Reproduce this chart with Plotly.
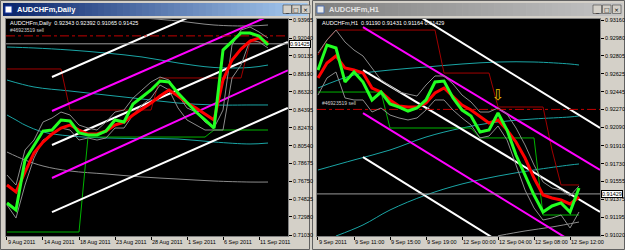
import plotly.graph_objects as go

W, H = 625, 250

# ---------------- LEFT CHART: AUDCHFm, Daily ----------------
daily_tick_bars = [0, 4, 8, 12, 16, 20, 24, 28]
daily_tick_labels = ["9 Aug 2011", "14 Aug 2011", "18 Aug 2011", "23 Aug 2011",
                     "28 Aug 2011", "1 Sep 2011", "6 Sep 2011", "11 Sep 2011"]
daily_price_ticks = [0.93965, 0.92040, 0.90135, 0.88190, 0.86320, 0.84395, 0.82470,
                     0.80540, 0.78675, 0.76750, 0.74825, 0.72980, 0.71030]
daily_fast = [0.7444, 0.7370, 0.7903, 0.8052, 0.8212, 0.8223, 0.8330, 0.8319, 0.8191, 0.8170,
              0.8170, 0.8212, 0.8330, 0.8308, 0.8500, 0.8575, 0.8650, 0.8746, 0.8735, 0.8618,
              0.8511, 0.8415, 0.8330, 0.8244, 0.9076, 0.9162, 0.9258, 0.9258, 0.9226, 0.9130]
daily_slow = [0.7636, 0.7562, 0.7775, 0.7978, 0.8095, 0.8180, 0.8244, 0.8276, 0.8223, 0.8180,
              0.8180, 0.8212, 0.8276, 0.8308, 0.8383, 0.8447, 0.8511, 0.8586, 0.8650, 0.8586,
              0.8511, 0.8458, 0.8394, 0.8330, 0.8756, 0.8970, 0.9087, 0.9172, 0.9204, 0.9151]
daily_env_high = [0.7743, 0.7636, 0.8010, 0.8116, 0.8308, 0.8351, 0.8415, 0.8383, 0.8276, 0.8244,
                  0.8223, 0.8308, 0.8415, 0.8436, 0.8564, 0.8650, 0.8735, 0.8788, 0.8756, 0.8596,
                  0.8458, 0.8415, 0.8308, 0.8244, 0.8436, 0.9130, 0.9290, 0.9322, 0.9268, 0.9204]
daily_env_low = [0.7423, 0.7284, 0.7636, 0.7924, 0.8116, 0.8170, 0.8244, 0.8223, 0.8116, 0.8138,
                 0.8116, 0.8138, 0.8244, 0.8244, 0.8383, 0.8490, 0.8564, 0.8703, 0.8650, 0.8458,
                 0.8330, 0.8276, 0.8223, 0.8223, 0.8223, 0.8778, 0.8916, 0.9183, 0.9162, 0.9098]
daily_stop_red = [0.8874] * 7 + [0.8436] * 10 + [0.8778] * 10 + [0.9162] * 3
daily_stop_green = [0.7135] * 9 + [0.8148] * 14 + [0.8223] * 7
daily_band_bars_a = [0, 3, 7, 11, 15, 19, 23, 27, 29]
daily_band_a = [0.9108, 0.9098, 0.9076, 0.9044, 0.9002, 0.8938, 0.8890, 0.8890, 0.8916]
daily_band_b = [0.8756, 0.8682, 0.8639, 0.8596, 0.8554, 0.8511, 0.8490, 0.8490, 0.8490]
daily_band_bars_c = [0, 1, 2, 4, 7, 11, 15, 19, 23, 27, 29]
daily_band_c = [0.8383, 0.8330, 0.8276, 0.8202, 0.8159, 0.8138, 0.8132, 0.8127, 0.8095, 0.8074, 0.8084]
daily_band_bars_d = [0, 2, 4, 7, 11, 15, 19, 23, 27, 29]
daily_band_d = [0.7988, 0.7903, 0.7839, 0.7786, 0.7754, 0.7722, 0.7700, 0.7679, 0.7668, 0.7668]
daily_band_bars_e = [15, 19, 23, 27, 29]
daily_band_e = [0.9418, 0.9386, 0.9343, 0.9333, 0.9343]
# channel lines: (bar0, price0, bar1, price1, colour)
daily_channels = [
    (5, 0.8788, 22, 0.9500, "#FFFFFF"),
    (5, 0.8426, 31.2, 0.9526, "#FF00FF"),
    (5, 0.8063, 31.2, 0.9162, "#FFFFFF"),
    (5, 0.7711, 31.2, 0.8860, "#FF00FF"),
    (5, 0.7348, 31.2, 0.8458, "#FFFFFF"),
]
daily_close = 0.91425
daily_info = "AUDCHFm,Daily  0.92343 0.92392 0.91065 0.91425"

# ---------------- RIGHT CHART: AUDCHFm, H1 ----------------
h1_tick_bars = [0, 4, 8, 12, 16, 20, 24, 28]
h1_tick_labels = ["9 Sep 2011", "9 Sep 11:00", "9 Sep 15:00", "9 Sep 19:00",
                  "12 Sep 00:00", "12 Sep 04:00", "12 Sep 08:00", "12 Sep 12:00"]
h1_price_ticks = [0.93160, 0.92980, 0.92805, 0.92625, 0.92445, 0.92270, 0.92090,
                  0.91910, 0.91730, 0.91555, 0.91375, 0.91195, 0.91020]
h1_fast = [0.92662, 0.92911, 0.92881, 0.92543, 0.92642, 0.92543, 0.92364, 0.92443, 0.92324, 0.92294,
           0.92254, 0.92284, 0.92364, 0.92543, 0.92553, 0.92384, 0.92264, 0.92205, 0.92045, 0.92065,
           0.92234, 0.92065, 0.91816, 0.91617, 0.91418, 0.91249, 0.91309, 0.91339, 0.91249, 0.91488]
h1_slow = [0.92583, 0.92732, 0.92802, 0.92682, 0.92662, 0.92632, 0.92483, 0.92443, 0.92364, 0.92304,
           0.92294, 0.92294, 0.92334, 0.92433, 0.92483, 0.92394, 0.92314, 0.92264, 0.92195, 0.92135,
           0.92165, 0.92065, 0.91946, 0.91786, 0.91587, 0.91418, 0.91388, 0.91368, 0.91329, 0.91398]
h1_env_high = [0.92831, 0.92961, 0.93060, 0.92941, 0.92861, 0.92802, 0.92682, 0.92563, 0.92503, 0.92443,
               0.92423, 0.92403, 0.92513, 0.92603, 0.92603, 0.92523, 0.92413, 0.92344, 0.92244, 0.92244,
               0.92284, 0.92224, 0.92085, 0.91916, 0.91717, 0.91548, 0.91488, 0.91468, 0.91408, 0.91508]
h1_env_low = [0.92413, 0.92583, 0.92642, 0.92384, 0.92364, 0.92364, 0.92244, 0.92284, 0.92214, 0.92185,
              0.92165, 0.92185, 0.92264, 0.92364, 0.92364, 0.92264, 0.92185, 0.92115, 0.91986, 0.92005,
              0.92105, 0.91966, 0.91717, 0.91468, 0.91289, 0.91169, 0.91189, 0.91219, 0.91090, 0.91249]
h1_stop_red = [0.92812, 0.92961] + [0.93060] * 12 + [0.92632] * 6 + [0.92294] * 6 + [0.91866] + [0.91518] * 3
h1_stop_green = [0.92443] * 8 + [0.92085] * 10 + [0.91986] * 7 + [0.91219] * 5
h1_band_bars_a = [0, 4, 8, 12, 16, 20, 24, 28, 29]
h1_band_a = [0.92483, 0.92613, 0.92662, 0.92692, 0.92722, 0.92742, 0.92742, 0.92722, 0.92712]
h1_band_b = [0.91667, 0.91767, 0.91866, 0.91995, 0.92085, 0.92145, 0.92175, 0.92195, 0.92205]
h1_band_bars_c = [2, 5, 8, 12, 16, 20, 24, 28, 29]
h1_band_c = [0.91010, 0.91120, 0.91269, 0.91418, 0.91528, 0.91607, 0.91667, 0.91717, 0.91727]
h1_band_bars_d = [20, 23, 26, 29]
h1_band_d = [0.91012, 0.91060, 0.91100, 0.91149]
h1_channels = [
    (11.56, 0.93180, 31.33, 0.92085, "#FFFFFF"),
    (5, 0.93090, 31.33, 0.91667, "#FF00FF"),
    (5, 0.92662, 31.33, 0.91249, "#FFFFFF"),
    (5, 0.92234, 31.33, 0.90783, "#FF00FF"),
    (5, 0.91796, 21, 0.90904, "#FFFFFF"),
]
h1_signal_bars = [20]
h1_signal_prices = [0.92400]
h1_close = 0.91429
h1_info = "AUDCHFm,H1  0.91190 0.91431 0.91164 0.91429"

order_price = 0.9227
order_label = "#46923519 sell"

FONT = "Liberation Sans"

# ---------------- helpers ----------------
def fx(p):
    return p / W


def fy(p):
    return 1 - p / H


fig = go.Figure()


def line(xs, ys, color, width, xa, ya, dash=None, shape="linear"):
    fig.add_trace(go.Scatter(x=xs, y=ys, mode="lines", xaxis=xa, yaxis=ya,
                             line=dict(color=color, width=width, dash=dash, shape=shape),
                             hoverinfo="skip", showlegend=False))


def draw_chart(xa, ya, xr, bands, stop_red, stop_green, channels, env_hi, env_lo,
               fast, slow, close):
    for bx, by, col in bands:
        line(bx, by, col, 1, xa, ya, shape="spline")
    n = len(fast)
    bars = list(range(n))
    line(bars, stop_green, "#00B400", 1, xa, ya)
    line(bars, stop_red, "#A00000", 1, xa, ya)
    for b0, p0, b1, p1, col in channels:
        line([b0, b1], [p0, p1], col, 2, xa, ya)
    line([xr[0], xr[1]], [order_price, order_price], "#C00000", 1, xa, ya, dash="dashdot")
    line([xr[0], xr[1]], [close, close], "#9A9A9A", 1, xa, ya)
    line(bars, env_hi, "#8C8C8C", 1, xa, ya)
    line(bars, env_lo, "#8C8C8C", 1, xa, ya)
    line(bars, slow, "#FF0000", 3, xa, ya)
    line(bars, fast, "#22FF22", 3, xa, ya)


LXR = [-0.11, 31.22]
RXR = [-0.11, 31.33]
TEAL = "#1AA5A5"

draw_chart("x", "y", LXR,
           [(daily_band_bars_a, daily_band_a, TEAL), (daily_band_bars_a, daily_band_b, TEAL),
            (daily_band_bars_c, daily_band_c, TEAL), (daily_band_bars_d, daily_band_d, "#8C8C8C"),
            (daily_band_bars_e, daily_band_e, "#8C8C8C")],
           daily_stop_red, daily_stop_green, daily_channels, daily_env_high, daily_env_low,
           daily_fast, daily_slow, daily_close)

draw_chart("x2", "y2", RXR,
           [(h1_band_bars_a, h1_band_a, TEAL), (h1_band_bars_a, h1_band_b, TEAL),
            (h1_band_bars_c, h1_band_c, TEAL), (h1_band_bars_d, h1_band_d, "#8C8C8C")],
           h1_stop_red, h1_stop_green, h1_channels, h1_env_high, h1_env_low,
           h1_fast, h1_slow, h1_close)

fig.add_trace(go.Scatter(x=h1_signal_bars, y=h1_signal_prices, mode="text", text=["⇩"],
                         textfont=dict(family="DejaVu Sans", size=15, color="#E8C000"),
                         xaxis="x2", yaxis="y2", hoverinfo="skip", showlegend=False))

# ---------------- axes ----------------
tickfont = dict(family=FONT, size=5.5, color="#000000")
common_x = dict(showgrid=False, zeroline=False, showline=True, linecolor="#808080", linewidth=1,
                mirror=True, ticks="outside", ticklen=3, tickcolor="#000000", tickwidth=1,
                tickfont=tickfont, ticklabelposition="outside right", tickangle=0,
                automargin=False, fixedrange=True)
common_y = dict(showgrid=False, zeroline=False, showline=True, linecolor="#808080", linewidth=1,
                mirror=True, ticks="outside", ticklen=3, tickcolor="#000000", tickwidth=1,
                tickfont=tickfont, side="right", automargin=False, fixedrange=True)
ydom = [fy(236), fy(19)]

fig.update_layout(
    width=W, height=H, margin=dict(l=0, r=0, t=0, b=0, autoexpand=False),
    paper_bgcolor="#D4D0C8", plot_bgcolor="#000000", showlegend=False,
    xaxis=dict(domain=[fx(6), fx(288)], range=LXR, anchor="y",
               tickvals=daily_tick_bars, ticktext=daily_tick_labels, **common_x),
    yaxis=dict(domain=ydom, range=[0.70924, 0.94071], anchor="x",
               tickvals=daily_price_ticks, ticktext=[f"{v:.5f}" for v in daily_price_ticks], **common_y),
    xaxis2=dict(domain=[fx(317), fx(600)], range=RXR, anchor="y2",
                tickvals=h1_tick_bars, ticktext=h1_tick_labels, **common_x),
    yaxis2=dict(domain=ydom, range=[0.91010, 0.93170], anchor="x2",
                tickvals=h1_price_ticks, ticktext=[f"{v:.5f}" for v in h1_price_ticks], **common_y),
)

# ---------------- window chrome ----------------
shapes = []
anns = []


def rect(x0, y0, x1, y1, fill=None, lc=None, lw=0):
    shapes.append(dict(type="rect", xref="paper", yref="paper", x0=fx(x0), x1=fx(x1),
                       y0=fy(y1), y1=fy(y0), fillcolor=fill,
                       line=dict(color=lc if lc else "rgba(0,0,0,0)", width=lw), layer="below"))


def gradient(x0, x1, y0, y1, c0, c1, n=48):
    step = (x1 - x0) / n
    for i in range(n):
        t = i / (n - 1)
        c = tuple(int(round(c0[k] + (c1[k] - c0[k]) * t)) for k in range(3))
        rect(x0 + i * step, y0, x0 + (i + 1) * step + 0.6, y1, fill="rgb(%d,%d,%d)" % c)


# window frames
rect(0.5, 0.5, 309.5, 249.5, lc="#606060", lw=1)
rect(312.5, 0.5, 624.5, 249.5, lc="#606060", lw=1)
# title bars
gradient(3, 307, 3, 16, (10, 36, 106), (166, 202, 240))
gradient(315, 622, 3, 16, (128, 128, 128), (196, 196, 196))
# icons
rect(5, 6, 12, 13, fill="#FFFFFF", lc="#1030A0", lw=1)
rect(317, 6, 324, 13, fill="#E8E8E8", lc="#5070B0", lw=1)


def buttons(xs):
    glyphs = ["_", "□", "×"]
    for x0, g in zip(xs, glyphs):
        rect(x0, 5, x0 + 8.5, 13.5, fill="#D4D0C8", lc="#404040", lw=0.6)
        anns.append(dict(x=fx(x0 + 4.25), y=fy(9.5), xref="paper", yref="paper", text=g,
                         showarrow=False, font=dict(family="DejaVu Sans", size=6, color="#000000"),
                         xanchor="center", yanchor="middle"))


buttons([283, 292, 301.5])
buttons([593, 602.5, 612.5])

anns.append(dict(x=fx(15), y=fy(9.5), xref="paper", yref="paper", text="<b>AUDCHFm,Daily</b>",
                 showarrow=False, font=dict(family=FONT, size=7.5, color="#FFFFFF"),
                 xanchor="left", yanchor="middle"))
anns.append(dict(x=fx(327), y=fy(9.5), xref="paper", yref="paper", text="<b>AUDCHFm,H1</b>",
                 showarrow=False, font=dict(family=FONT, size=7.5, color="#E4E4E4"),
                 xanchor="left", yanchor="middle"))

# info lines inside charts
infofont = dict(family=FONT, size=5.5, color="#FFFFFF")
anns.append(dict(x=fx(8), y=fy(23.5), xref="paper", yref="paper", text=daily_info,
                 showarrow=False, font=infofont, xanchor="left", yanchor="middle"))
anns.append(dict(x=fx(320), y=fy(23.5), xref="paper", yref="paper", text=h1_info,
                 showarrow=False, font=infofont, xanchor="left", yanchor="middle"))

# order labels
ordfont = dict(family=FONT, size=5, color="#D0D0D0")
anns.append(dict(x=fx(8), y=order_price, xref="paper", yref="y", text=order_label,
                 showarrow=False, font=ordfont, xanchor="left", yanchor="bottom", yshift=1))
anns.append(dict(x=fx(320), y=order_price, xref="paper", yref="y2", text=order_label,
                 showarrow=False, font=ordfont, xanchor="left", yanchor="bottom", yshift=1))

# current price boxes
boxfont = dict(family=FONT, size=5.5, color="#000000")
anns.append(dict(x=fx(289), y=daily_close, xref="paper", yref="y", text=f"{daily_close:.5f}",
                 showarrow=False, font=boxfont, xanchor="left", yanchor="middle",
                 bgcolor="#FFFFFF", bordercolor="#000000", borderwidth=1, borderpad=0))
anns.append(dict(x=fx(601), y=h1_close, xref="paper", yref="y2", text=f"{h1_close:.5f}",
                 showarrow=False, font=boxfont, xanchor="left", yanchor="middle",
                 bgcolor="#FFFFFF", bordercolor="#000000", borderwidth=1, borderpad=0))

fig.update_layout(shapes=shapes, annotations=anns)
fig.write_html("out.html")
